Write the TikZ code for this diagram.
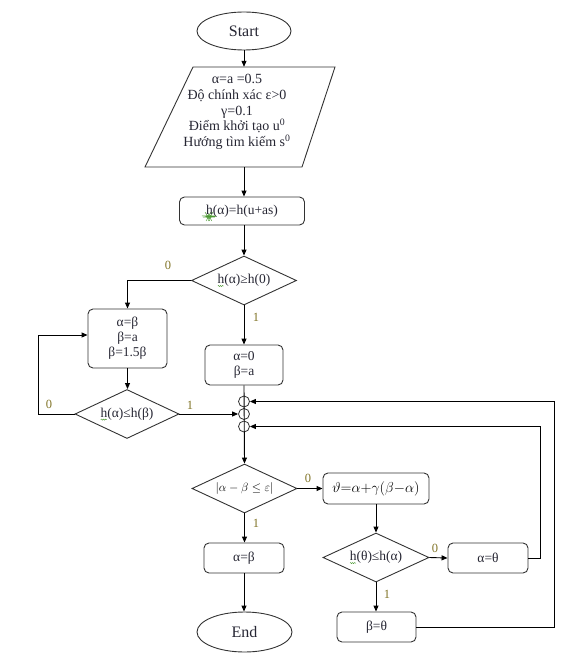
\documentclass[tikz,border=0pt]{standalone}
\usepackage{fontspec}
\setmainfont{Liberation Serif}
\usetikzlibrary{shapes.geometric,arrows.meta,decorations.pathmorphing,calc}
\definecolor{lab}{rgb}{0.5,0.45,0.15}
\definecolor{sq}{rgb}{0.3,0.6,0.2}
\definecolor{txt}{rgb}{0.15,0.15,0.2}
\newcommand\hh{\rlap{\tikz[baseline=0pt]\draw[sq,line width=.4pt,decorate,decoration={snake,amplitude=.6pt,segment length=2pt}] (0pt,-2.5pt) -- (6pt,-2.5pt);}h}
\begin{document}
\begin{tikzpicture}[x=1pt,y=-1pt,
  every node/.style={font=\fontsize{13.5}{15}\selectfont, text=txt},
  line/.style={line width=0.9pt, black},
  arr/.style={line, -{Triangle[length=6pt,width=5pt]}},
  box/.style={draw=black!80, line width=0.9pt, rounded corners=5pt, inner sep=0pt, align=center},
  dia/.style={draw=black!80, diamond, aspect=2.14, line width=0.9pt, inner sep=0pt},
  term/.style={draw=black!80, ellipse, line width=0.9pt, inner sep=0pt, font=\fontsize{16}{18}\selectfont},
  lbl/.style={text=lab, font=\fontsize{12.5}{14}\selectfont, inner sep=0pt},
  mth/.style={text=black, font=\fontsize{14}{16}\selectfont},
  junc/.style={circle, draw=black!80, line width=0.8pt, minimum size=11pt, inner sep=0pt}
]
\useasboundingbox (0,0) rectangle (568,658);

% nodes
\node[term, minimum width=94pt, minimum height=38pt] (start) at (244,31) {Start};
\node[inner sep=0pt, minimum width=142pt, minimum height=100pt] (inp) at (244,117) {};
\draw[draw=black!80, line width=0.9pt]
  ($(inp.center)+(-51,-50)$) -- ($(inp.center)+(91,-50)$) --
  ($(inp.center)+(58,50)$) -- ($(inp.center)+(-99,50)$) -- cycle;
\node[align=center, inner sep=0pt, font=\fontsize{14}{15.7}\selectfont] (inptext) at (237,112)
  {α=a =0.5\\Độ chính xác ε>0\\γ=0.1\\Điểm khởi tạo u\textsuperscript{0}\\Hướng tìm kiếm s\textsuperscript{0}};
\node[box, minimum width=125pt, minimum height=28pt] (b1) at (242,211) {\hh(α)=h(u+as)};
\node[dia, minimum width=105pt, minimum height=49pt] (d1) at (244,280.5) {\hh(α)≥h(0)};
\node[box, minimum width=79pt, minimum height=59pt] (b2) at (127.5,338.5) {α=β\\β=a\\β=1.5β};
\node[box, minimum width=78pt, minimum height=40pt] (b3) at (244,365) {α=0\\β=a};
\node[junc] (c1) at (244,401.5) {};
\node[junc] (c2) at (244,414) {};
\node[junc] (c3) at (244,426.5) {};
\node[dia, minimum width=104pt, minimum height=49pt] (d2) at (127,414) {\hh(α)≤h(β)};
\node[dia, mth, font=\fontsize{12.5}{14}\selectfont, minimum width=105pt, minimum height=49pt] (d3) at (244.5,488.5) {$|\alpha-\beta\le\varepsilon|$};
\node[box, mth, minimum width=106pt, minimum height=31pt] (b4) at (376,488.5) {$\vartheta{=}\alpha{+}\gamma(\beta{-}\alpha)$};
\node[dia, minimum width=106pt, minimum height=49pt] (d4) at (376,557.5) {\hh(θ)≤h(α)};
\node[box, minimum width=80pt, minimum height=30pt] (b5) at (488,558) {α=θ};
\node[box, minimum width=80pt, minimum height=30pt] (b6) at (244,558) {α=β};
\node[term, minimum width=95pt, minimum height=40pt] (end) at (244.5,632) {End};
\node[box, minimum width=79pt, minimum height=30pt] (b7) at (376.5,627) {β=θ};

% connectors
\draw[arr] (start) -- (inp.north);
\draw[arr] (inp.south) -- (inp.south |- b1.north);
\draw[arr] (b1.south -| d1.north) -- (d1.north);
\draw[arr] (d1.west) -| (b2.north);
\draw[arr] (d1.south) -- (b3.north);
\draw[arr] (b2.south) -- (b2.south |- d2.north);
\draw[arr] (d2.west) -- ++(-36,0) |- ([yshift=3.5pt]b2.west);
\draw[arr] (d2.east) -- (c2.west);
\draw[arr] (b3.south) -- (d3.north);
\draw[arr] (b5.east) -- ++(12,0) |- (c3.east);
\draw[arr] (b7.east) -- ++(138,0) |- (c1.east);
\draw[arr] (d3.east) -- (b4.west);
\draw[arr] (d3.south) -- (d3.south |- b6.north);
\draw[arr] (b4.south) -- (d4.north);
\draw[arr] (d4.east) -- (b5.west);
\draw[arr] (d4.south) -- (d4.south |- b7.north);
\draw[arr] (b6.south) -- (b6.south |- end.north);

% labels
\node[lbl] (l1) at (168,265) {0};
\node[lbl] (l2) at (256,317) {1};
\node[lbl] (l3) at (49,404) {0};
\node[lbl] (l4) at (190,405) {1};
\node[lbl] (l5) at (308,478) {0};
\node[lbl] (l6) at (256,523) {1};
\node[lbl] (l7) at (435,548) {0};
\node[lbl] (l8) at (387,594) {1};
\end{tikzpicture}
\end{document}
